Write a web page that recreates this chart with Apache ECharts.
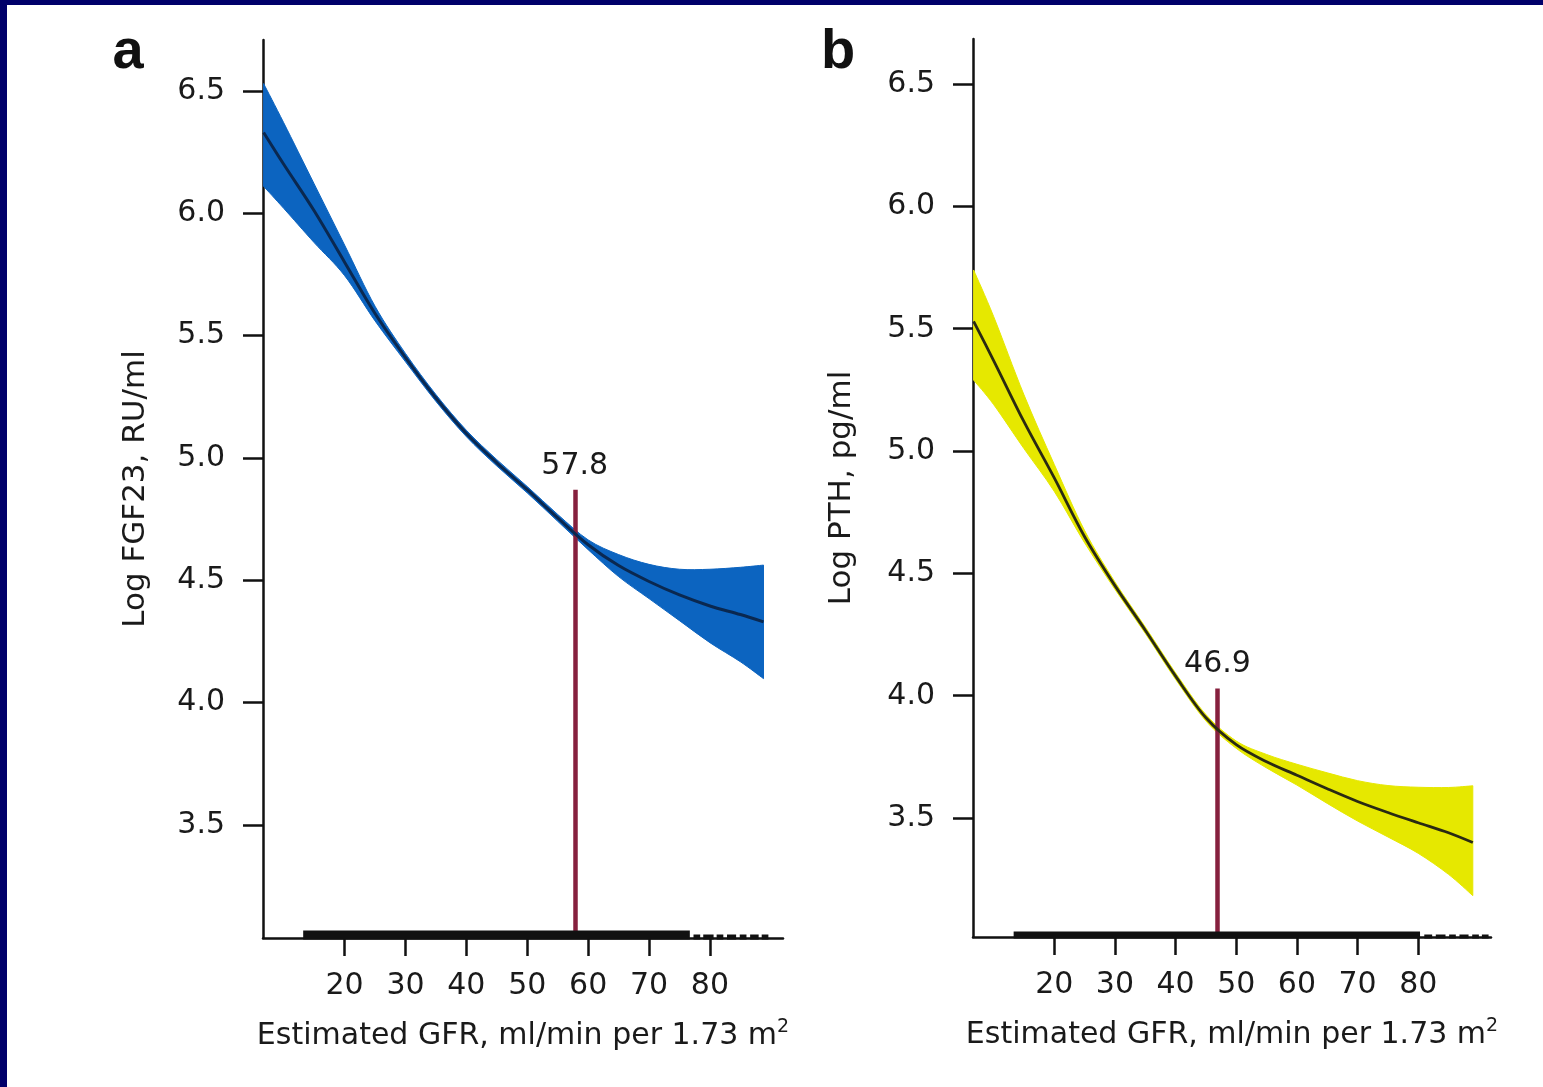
<!DOCTYPE html>
<html>
<head>
<meta charset="utf-8">
<script src="https://cdn.jsdelivr.net/npm/echarts@6/dist/echarts.min.js"></script>
<style>
html,body{margin:0;padding:0;background:#fff;}
#c{width:1543px;height:1087px;}
</style>
</head>
<body>
<div id="c"></div>
<script>
// ---------- data ----------
const xTicks = [20, 30, 40, 50, 60, 70, 80];
const yTicks = [3.5, 4.0, 4.5, 5.0, 5.5, 6.0, 6.5];

// panel a: FGF23 (spline fit with 95% band)
const gfrA   = [6.7, 10, 15, 20, 25, 30, 35, 40, 45, 50, 55, 60, 65, 70, 75, 80, 85, 88.8];
const fgfMid = [6.33, 6.20, 6.01, 5.80, 5.59, 5.41, 5.245, 5.10, 4.98, 4.87, 4.755, 4.645, 4.56, 4.495, 4.44, 4.395, 4.36, 4.33];
const fgfUp  = [6.53, 6.37, 6.12, 5.87, 5.62, 5.427, 5.259, 5.113, 4.993, 4.883, 4.769, 4.665, 4.605, 4.565, 4.545, 4.545, 4.553, 4.562];
const fgfLo  = [6.11, 6.02, 5.88, 5.745, 5.56, 5.393, 5.231, 5.087, 4.967, 4.857, 4.741, 4.625, 4.515, 4.425, 4.335, 4.245, 4.167, 4.098];
const cutA = 57.8, cutTopA = 4.87;
const rugDenseA  = [[13.2, 76.7]];
const rugSparseA = [[77.3, 78.4], [78.9, 80.6], [81.1, 82.2], [82.8, 84.3], [84.9, 86.0], [86.6, 88.0], [88.5, 89.6]];

// panel b: PTH
const gfrB   = [6.7, 10, 15, 20, 25, 30, 35, 40, 45, 50, 55, 60, 65, 70, 75, 80, 85, 89];
const pthMid = [5.53, 5.37, 5.12, 4.89, 4.65, 4.45, 4.268, 4.08, 3.91, 3.80, 3.73, 3.675, 3.62, 3.568, 3.523, 3.481, 3.44, 3.40];
const pthUp  = [5.74, 5.55, 5.23, 4.945, 4.675, 4.465, 4.281, 4.093, 3.923, 3.815, 3.76, 3.72, 3.685, 3.653, 3.633, 3.626, 3.625, 3.632];
const pthLo  = [5.29, 5.19, 5.01, 4.835, 4.625, 4.435, 4.255, 4.067, 3.897, 3.785, 3.705, 3.635, 3.56, 3.488, 3.423, 3.356, 3.27, 3.183];
const cutB = 46.9, cutTopB = 4.03;
const rugDenseB  = [[13.3, 80.3]];
const rugSparseB = [[81.0, 82.3], [82.9, 84.5], [85.1, 86.2], [86.8, 88.3], [88.9, 90.0], [90.5, 91.6]];

// axis ranges
const xMin = 6.6, xMax = 92;
const yMinA = 3.038, yMaxA = 6.708;
const yMinB = 3.014, yMaxB = 6.684;

// ---------- helpers ----------
const FONT = 'DejaVu Sans';
const TXT = '#1a1a1a';
const zip = (xs, ys) => xs.map((x, i) => [x, ys[i]]);

// Catmull-Rom -> cubic bezier path through pixel points
function crPath(pts, start) {
  let d = (start ? 'M' : 'L') + pts[0][0] + ',' + pts[0][1];
  const t = 1 / 6;
  for (let i = 0; i < pts.length - 1; i++) {
    const p0 = pts[i - 1] || pts[i], p1 = pts[i], p2 = pts[i + 1], p3 = pts[i + 2] || p2;
    const c1 = [p1[0] + (p2[0] - p0[0]) * t, p1[1] + (p2[1] - p0[1]) * t];
    const c2 = [p2[0] - (p3[0] - p1[0]) * t, p2[1] - (p3[1] - p1[1]) * t];
    d += 'C' + c1[0] + ',' + c1[1] + ',' + c2[0] + ',' + c2[1] + ',' + p2[0] + ',' + p2[1];
  }
  return d;
}

function xAxisDef(gi) {
  return {
    type: 'value', gridIndex: gi, min: xMin, max: xMax,
    axisLine: {show: true, lineStyle: {color: '#111', width: 2.5}},
    axisTick: {show: true, customValues: xTicks, length: 18, lineStyle: {color: '#111', width: 2.5}},
    axisLabel: {customValues: xTicks, margin: 33, fontSize: 30, fontFamily: FONT, color: TXT},
    splitLine: {show: false},
    name: '{t|Estimated GFR, ml/min per 1.73 m}{s|2}',
    nameLocation: 'middle', nameGap: 80,
    nameTextStyle: {
      rich: {
        t: {fontSize: 30, fontFamily: FONT, color: TXT, lineHeight: 36},
        s: {fontSize: 19, fontFamily: FONT, color: TXT, lineHeight: 20, verticalAlign: 'top'}
      }
    }
  };
}
function yAxisDef(gi, mn, mx, name, gap) {
  return {
    type: 'value', gridIndex: gi, min: mn, max: mx,
    axisLine: {show: true, lineStyle: {color: '#111', width: 2.5}},
    axisTick: {show: true, customValues: yTicks, length: 20, lineStyle: {color: '#111', width: 2.5}},
    axisLabel: {customValues: yTicks, margin: 38, fontSize: 30, fontFamily: FONT, color: TXT,
                formatter: v => Number(v).toFixed(1)},
    splitLine: {show: false},
    name: name, nameLocation: 'middle', nameGap: gap,
    nameTextStyle: {fontSize: 31, fontFamily: FONT, color: TXT}
  };
}
function rugSeries(gi, segs, yBase, h) {
  return {
    type: 'custom', xAxisIndex: gi, yAxisIndex: gi, clip: false, silent: true, z: 5,
    data: segs.map(s => [s[0], s[1], yBase]),
    encode: {x: [0, 1], y: 2},
    renderItem: function (params, api) {
      const p1 = api.coord([api.value(0), api.value(2)]);
      const p2 = api.coord([api.value(1), api.value(2)]);
      return {type: 'rect', shape: {x: p1[0], y: p1[1] - h + 1.5, width: p2[0] - p1[0], height: h},
              style: {fill: '#111'}};
    }
  };
}
function bandSeries(gi, xs, lo, up, color) {
  return {
    type: 'custom', xAxisIndex: gi, yAxisIndex: gi, silent: true, z: 2,
    data: xs.map((x, i) => [x, lo[i], up[i]]),
    encode: {x: 0, y: [1, 2]},
    renderItem: function (params, api) {
      if (params.dataIndex !== 0) return null;
      const upPts = xs.map((x, i) => api.coord([x, up[i]]));
      const loPts = xs.map((x, i) => api.coord([x, lo[i]])).reverse();
      const d = crPath(upPts, true) + crPath(loPts, false) + 'Z';
      return {type: 'path', shape: {pathData: d}, style: {fill: color, stroke: color, lineWidth: 1}};
    }
  };
}
function midSeries(gi, xs, ys, color, width, cut, cutTop, yBase) {
  return {
    type: 'line', xAxisIndex: gi, yAxisIndex: gi, data: zip(xs, ys),
    symbol: 'none', smooth: 0.33, lineStyle: {color: color, width: width}, z: 4, silent: true,
    markLine: {
      silent: true, symbol: 'none', z: 3,
      lineStyle: {color: '#86203e', width: 4.5, type: 'solid'},
      label: {show: true, position: 'end', distance: 9, formatter: String(cut),
              fontSize: 30, fontFamily: FONT, color: TXT},
      data: [[{coord: [cut, yBase]}, {coord: [cut, cutTop]}]]
    }
  };
}

// ---------- chart ----------
const chart = echarts.init(document.getElementById('c'), null, {renderer: 'canvas'});
chart.setOption({
  animation: false,
  backgroundColor: '#ffffff',
  grid: [
    {left: 263, top: 40, width: 520, height: 898},
    {left: 973, top: 39, width: 518, height: 898}
  ],
  xAxis: [xAxisDef(0), xAxisDef(1)],
  yAxis: [
    yAxisDef(0, yMinA, yMaxA, 'Log FGF23, RU/ml', 112),
    yAxisDef(1, yMinB, yMaxB, 'Log PTH, pg/ml', 116)
  ],
  graphic: [
    {type: 'rect', shape: {x: 0, y: 0, width: 1543, height: 5}, style: {fill: '#00006a'}, z: 100},
    {type: 'rect', shape: {x: 0, y: 0, width: 7, height: 1087}, style: {fill: '#00006a'}, z: 100},
    {type: 'text', x: 128, y: 53, style: {text: 'a', font: 'bold 56px "Liberation Sans"', fill: '#111',
      textAlign: 'center', textVerticalAlign: 'middle'}},
    {type: 'text', x: 838, y: 53, style: {text: 'b', font: 'bold 56px "Liberation Sans"', fill: '#111',
      textAlign: 'center', textVerticalAlign: 'middle'}}
  ],
  series: [
    bandSeries(0, gfrA, fgfLo, fgfUp, '#0c64c0'),
    midSeries(0, gfrA, fgfMid, '#0a2850', 3, cutA, cutTopA, yMinA),
    rugSeries(0, rugDenseA, yMinA, 9),
    rugSeries(0, rugSparseA, yMinA, 5),
    bandSeries(1, gfrB, pthLo, pthUp, '#e6e800'),
    midSeries(1, gfrB, pthMid, '#2a2a12', 2.8, cutB, cutTopB, yMinB),
    rugSeries(1, rugDenseB, yMinB, 7),
    rugSeries(1, rugSparseB, yMinB, 4)
  ]
});
</script>
</body>
</html>
